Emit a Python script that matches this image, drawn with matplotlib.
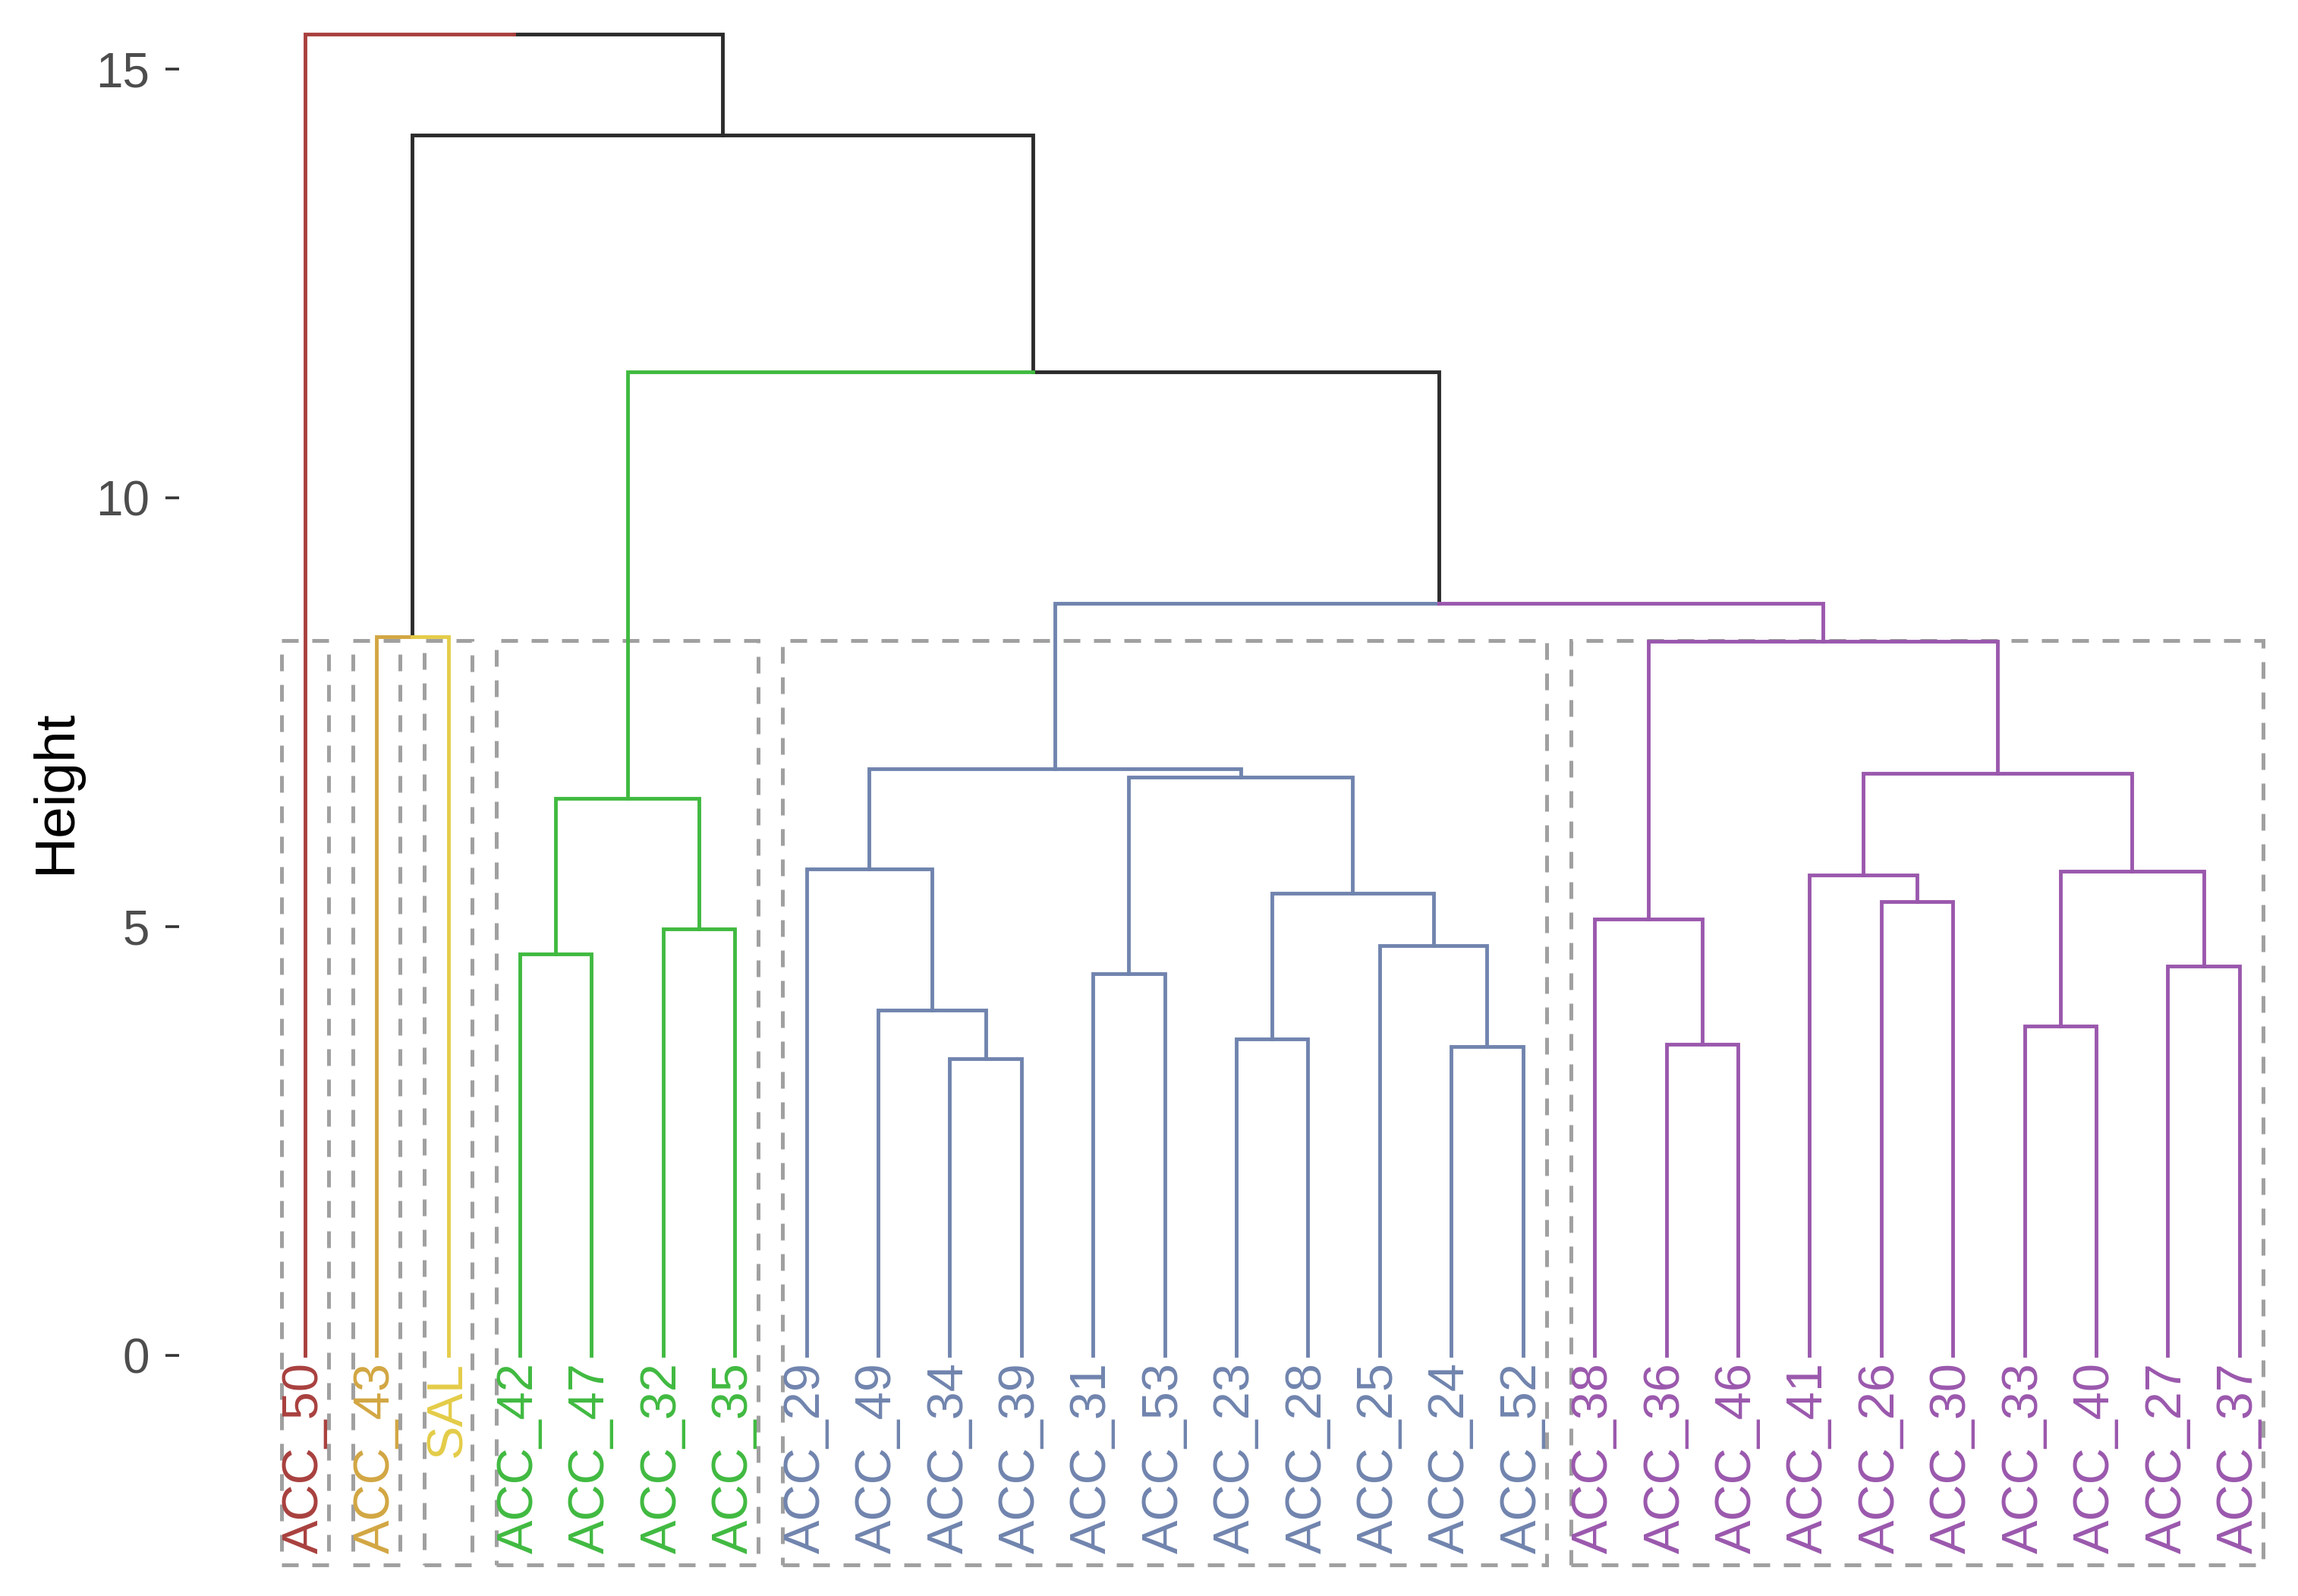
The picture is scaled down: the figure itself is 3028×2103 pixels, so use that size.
#!/usr/bin/env python3
import matplotlib

matplotlib.use("Agg")

import matplotlib.pyplot as plt
from matplotlib.patches import Rectangle

plt.rcParams["font.family"] = ["Liberation Sans", "DejaVu Sans"]

# leaves in dendrogram order, with their cluster (k = 6)
LEAF_LABELS = [
    "ACC_50", "ACC_43", "SAL", "ACC_42", "ACC_47", "ACC_32", "ACC_35",
    "ACC_29", "ACC_49", "ACC_34", "ACC_39", "ACC_31", "ACC_53", "ACC_23",
    "ACC_28", "ACC_25", "ACC_24", "ACC_52", "ACC_38", "ACC_36", "ACC_46",
    "ACC_41", "ACC_26", "ACC_30", "ACC_33", "ACC_40", "ACC_27", "ACC_37",
]
LEAF_CLUSTER = [0, 1, 2, 3, 3, 3, 3] + [4] * 11 + [5] * 10

# merges (left node, right node, height); merge i creates node len(LEAF_LABELS) + i
MERGE_LEFT = [1, 3, 5, 29, 9, 8, 7, 11, 13, 16, 15, 36, 35, 34,
              19, 18, 22, 21, 24, 26, 46, 45, 43, 41, 31, 28, 0]
MERGE_RIGHT = [2, 4, 6, 30, 10, 32, 33, 12, 14, 17, 37, 38, 39, 40,
               20, 42, 23, 44, 25, 27, 47, 48, 49, 50, 51, 52, 53]
MERGE_HEIGHT = [8.38, 4.68, 4.97, 6.50, 3.46, 4.03, 5.67, 4.45, 3.69, 3.60, 4.78, 5.39, 6.74, 6.84,
                3.63, 5.09, 5.29, 5.60, 3.84, 4.54, 5.65, 6.79, 8.33, 8.77, 11.47, 14.23, 15.41]

CLUSTER_COLORS = ["#A8403E", "#D2A642", "#E4CC48", "#40BA40", "#7084AE", "#9A58AD"]
MIXED_COLOR = "#2B2B2B"
RECT_TOP = 8.34
RECT_BOTTOM = -2.44
Y_TICKS = [0, 5, 10, 15]

W, H, DPI = 3028, 2103, 200


def build_tree():
    n = len(LEAF_LABELS)
    xs = [float(i) for i in range(n)]
    hs = [0.0] * n
    colors = [CLUSTER_COLORS[c] for c in LEAF_CLUSTER]
    for left, right, height in zip(MERGE_LEFT, MERGE_RIGHT, MERGE_HEIGHT):
        xs.append((xs[left] + xs[right]) / 2)
        hs.append(height)
        colors.append(colors[left] if colors[left] == colors[right] else MIXED_COLOR)
    return xs, hs, colors


def cluster_spans():
    spans = []
    for cluster in sorted(set(LEAF_CLUSTER)):
        idx = [i for i, c in enumerate(LEAF_CLUSTER) if c == cluster]
        spans.append((min(idx), max(idx)))
    return spans


def main() -> None:
    xs, hs, colors = build_tree()
    n = len(LEAF_LABELS)

    fig = plt.figure(figsize=(W / DPI, H / DPI), dpi=DPI)
    ax_left = 236 / W
    ax = fig.add_axes([ax_left, 0.0, 1 - ax_left, 1.0])

    # dashed cluster boxes
    for first, last in cluster_spans():
        ax.add_patch(
            Rectangle(
                (first - 0.33, RECT_BOTTOM),
                (last - first) + 0.66,
                RECT_TOP - RECT_BOTTOM,
                fill=False,
                edgecolor="#A0A0A0",
                linewidth=1.8,
                linestyle=(0, (4.4, 3.6)),
                zorder=1,
            )
        )

    # branches: each child edge = vertical up to the merge + half of the horizontal
    for i, (left, right) in enumerate(zip(MERGE_LEFT, MERGE_RIGHT)):
        parent = n + i
        for child in (left, right):
            ax.plot(
                [xs[child], xs[child], xs[parent]],
                [hs[child], hs[parent], hs[parent]],
                color=colors[child],
                linewidth=1.75,
                solid_joinstyle="miter",
                solid_capstyle="projecting",
                zorder=2 if colors[child] == MIXED_COLOR else 3,
            )

    for i, label in enumerate(LEAF_LABELS):
        ax.text(
            xs[i], -0.08, label,
            rotation=90, ha="center", va="top",
            fontsize=24, color=CLUSTER_COLORS[LEAF_CLUSTER[i]], zorder=4,
        )

    leaf_px = 94.4
    ax.set_xlim(-(401.7 - 236) / leaf_px, (n - 1) + (W - 2950.8) / leaf_px)
    ax.set_ylim(-2.805, 15.805)
    for side in ax.spines.values():
        side.set_visible(False)
    ax.set_xticks([])
    ax.set_yticks(Y_TICKS)
    ax.tick_params(axis="y", labelsize=23, length=6.5, width=1.3, pad=7.5,
                   color="#333333", labelcolor="#4D4D4D")

    fig.text(73 / W, 1 - 1043 / H, "Height", rotation=90, ha="center", va="center",
             fontsize=27, color="black")

    fig.savefig("out.png", dpi=DPI)
    plt.close(fig)


if __name__ == "__main__":
    main()
